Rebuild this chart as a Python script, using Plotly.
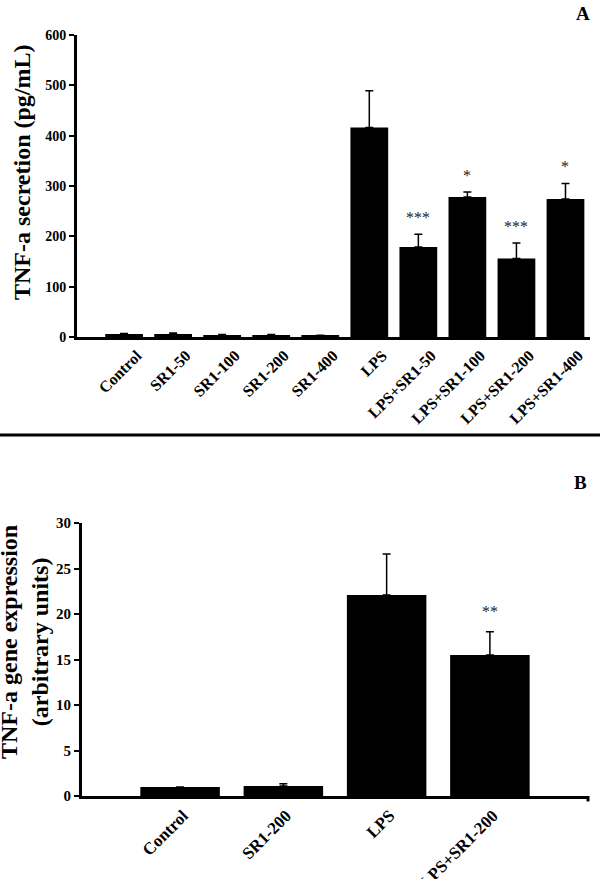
import plotly.graph_objects as go

# ---- data ----
cats_a = ["Control", "SR1-50", "SR1-100", "SR1-200", "SR1-400",
          "LPS", "LPS+SR1-50", "LPS+SR1-100", "LPS+SR1-200", "LPS+SR1-400"]
vals_a = [6, 6, 4, 4, 3, 416, 179, 278, 156, 274]
err_a = [1, 2, 1, 1, 0.5, 73, 25, 10, 31, 31]
sig_a = ["", "", "", "", "", "", "***", "*", "***", "*"]

cats_b = ["Control", "SR1-200", "LPS", "LPS+SR1-200"]
vals_b = [1.0, 1.1, 22.1, 15.5]
err_b = [0, 0.25, 4.5, 2.55]
sig_b = ["", "", "", "**"]

W, H = 600, 879
FONT = "Liberation Serif"

fig = go.Figure()

fig.add_trace(go.Bar(
    x=list(range(len(cats_a))), y=vals_a, width=0.77,
    marker=dict(color="black", line=dict(width=0)),
    error_y=dict(type="data", array=err_a, arrayminus=[0] * len(err_a),
                 symmetric=False, color="black", thickness=1.5, width=4),
    xaxis="x", yaxis="y", showlegend=False))

fig.add_trace(go.Bar(
    x=list(range(len(cats_b))), y=vals_b, width=0.77,
    marker=dict(color="black", line=dict(width=0)),
    error_y=dict(type="data", array=err_b, arrayminus=[0] * len(err_b),
                 symmetric=False, color="black", thickness=1.5, width=4),
    xaxis="x2", yaxis="y2", showlegend=False))

axis_common = dict(showline=True, linecolor="black", linewidth=3,
                   showgrid=False, zeroline=False, automargin=False)

def tf(size):
    return dict(family=FONT, size=size, color="black", weight="bold")

fig.update_layout(
    width=W, height=H,
    margin=dict(l=0, r=0, t=0, b=0, autoexpand=False),
    paper_bgcolor="white", plot_bgcolor="white",
    font=dict(family=FONT),
    xaxis=dict(domain=[77 / W, 590 / W], range=[-0.96, 9.5],
               tickmode="array", tickvals=list(range(len(cats_a))), ticktext=cats_a,
               tickangle=-45, ticks="", ticklabelshift=13, anchor="y",
               tickfont=tf(16), **axis_common),
    yaxis=dict(domain=[1 - 337 / H, 1 - 35 / H], range=[0, 600],
               tickvals=[0, 100, 200, 300, 400, 500, 600],
               ticks="outside", ticklen=5, tickwidth=2, tickcolor="black",
               anchor="x", tickfont=tf(14), **axis_common),
    xaxis2=dict(domain=[82 / W, 588 / W], range=[-0.95, 3.95],
                tickmode="array", tickvals=list(range(len(cats_b))), ticktext=cats_b,
                tickangle=-45, ticks="", ticklabelshift=3, anchor="y2",
                tickfont=tf(17), **axis_common),
    yaxis2=dict(domain=[1 - 796 / H, 1 - 523 / H], range=[0, 30],
                tickvals=[0, 5, 10, 15, 20, 25, 30],
                ticks="outside", ticklen=5, tickwidth=2, tickcolor="black",
                anchor="x2", tickfont=tf(15), **axis_common),
)

# significance marks
for i, s in enumerate(sig_a):
    if s:
        fig.add_annotation(x=i, y=vals_a[i] + err_a[i], xref="x", yref="y",
                           text=s, showarrow=False, xanchor="center",
                           yanchor="bottom", yshift=6,
                           font=dict(family=FONT, size=16, color="#222"))
for i, s in enumerate(sig_b):
    if s:
        fig.add_annotation(x=i, y=vals_b[i] + err_b[i], xref="x2", yref="y2",
                           text=s, showarrow=False, xanchor="center",
                           yanchor="bottom", yshift=10,
                           font=dict(family=FONT, size=16, color="#222"))

# axis titles
fig.add_annotation(x=22 / W, y=1 - 172 / H, xref="paper", yref="paper",
                   text="TNF-a secretion (pg/mL)", textangle=-90, showarrow=False,
                   xanchor="center", yanchor="middle",
                   font=dict(family=FONT, size=24, color="black", weight="bold"))
fig.add_annotation(x=24 / W, y=1 - 642 / H, xref="paper", yref="paper",
                   text="TNF-a gene expression<br>(arbitrary units)", textangle=-90,
                   showarrow=False, xanchor="center", yanchor="middle",
                   font=dict(family=FONT, size=24, color="black", weight="bold"))

# panel labels
fig.add_annotation(x=583 / W, y=1 - 14 / H, xref="paper", yref="paper",
                   text="A", showarrow=False, xanchor="center", yanchor="middle",
                   font=dict(family=FONT, size=19, color="black", weight="bold"))
fig.add_annotation(x=580 / W, y=1 - 483 / H, xref="paper", yref="paper",
                   text="B", showarrow=False, xanchor="center", yanchor="middle",
                   font=dict(family=FONT, size=19, color="black", weight="bold"))

# separator line and end tick of axis B
fig.add_shape(type="line", xref="paper", yref="paper",
              x0=0, x1=1, y0=1 - 435 / H, y1=1 - 435 / H,
              line=dict(color="black", width=3))
fig.add_shape(type="line", xref="x2 domain", yref="y2 domain",
              x0=1, x1=1, y0=0, y1=-0.02, line=dict(color="black", width=3))

fig.write_html("out.html", config={"displayModeBar": False},
               post_script="document.body.style.margin='0';")
